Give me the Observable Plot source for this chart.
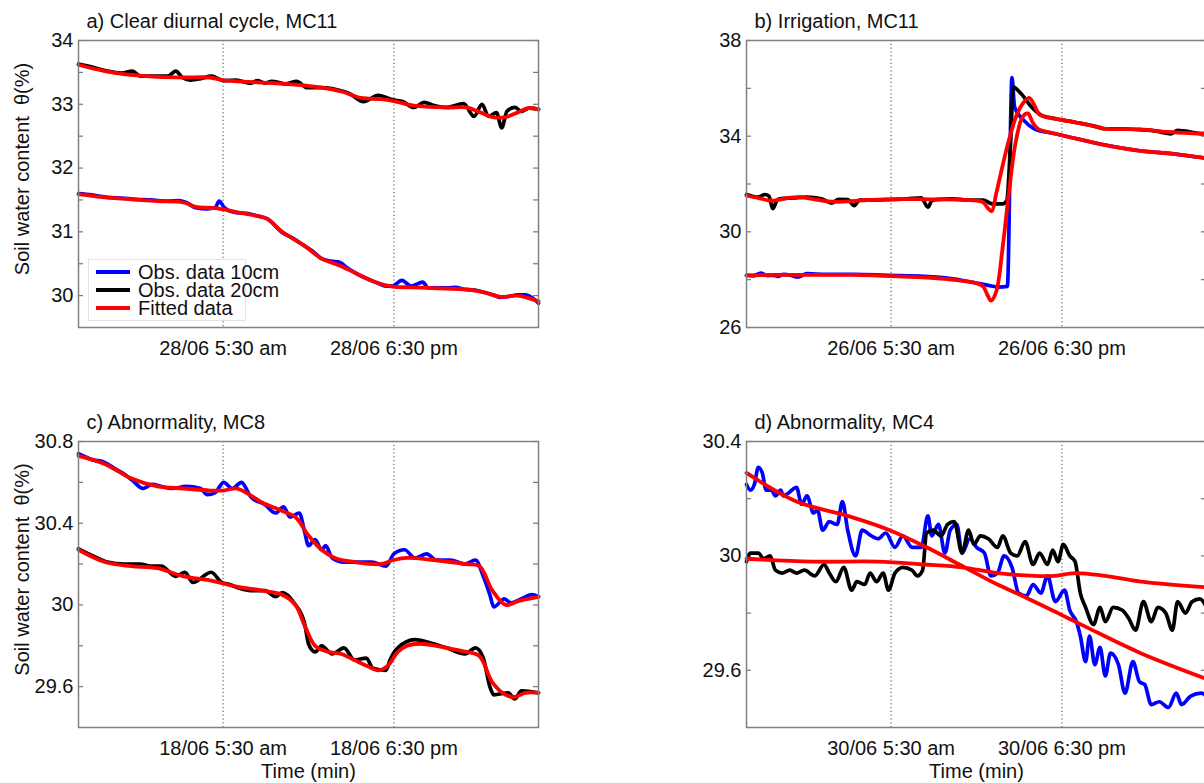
<!DOCTYPE html>
<html><head><meta charset="utf-8">
<script src="https://cdn.jsdelivr.net/npm/d3@7"></script>
<script src="https://cdn.jsdelivr.net/npm/@observablehq/plot@0.6"></script>
<style>
body{margin:0;background:#fff;overflow:hidden}
#fig{position:relative;width:1204px;height:783px;overflow:hidden;background:#fff;font-family:"Liberation Sans",Arial,sans-serif}
#fig svg{position:absolute}
</style></head><body><div id="fig"></div>
<script>
// ---------- shared labels ----------
const yAxisLabel = "Soil water content \u00a0θ(%)";
const xAxisLabel = "Time (min)";
const legendLabels = ["Obs. data 10cm", "Obs. data 20cm", "Fitted data"];
const legendColors = ["#0000ff", "#000000", "#ff0000"];
const xTickHours = [11, 24];   // hours after window start (18:30 previous day)

// ---------- panel a ----------
const aTitle = "a) Clear diurnal cycle, MC11";
const aXTickLabels = ["28/06 5:30 am", "28/06 6:30 pm"];
const aYLabeled = [30, 31, 32, 33, 34];
const aYTicks = [30, 30.5, 31, 31.5, 32, 32.5, 33, 33.5, 34];
const aObs10Hours = [0,1,2.2,3.2,4.4,5.5,6.8,7.6,8.2,8.9,9.8,10.4,10.7,11.1,12,12.8,13.6,14.4,15.5,16.3,17.2,17.8,18.5,19.2,19.9,20.4,21.2,22.6,23.4,23.9,24.6,25.3,26.2,26.6,28,28.7,29.3,30,30.7,31.6,32.1,32.8,33.4,34,34.5,35];
const aObs10 = [31.60,31.58,31.54,31.53,31.51,31.50,31.48,31.49,31.46,31.38,31.36,31.38,31.48,31.38,31.30,31.29,31.25,31.20,30.99,30.90,30.78,30.70,30.58,30.54,30.52,30.44,30.34,30.21,30.15,30.15,30.24,30.15,30.21,30.12,30.12,30.13,30.10,30.09,30.06,30.01,29.97,29.99,30.01,30.01,29.97,29.88];
const aObs20Hours = [0,1.1,2.2,3.3,4.1,4.7,5.8,6.8,7.4,7.9,8.5,9.3,10.1,11.05,12,13.1,13.6,14.2,14.7,15.8,16.6,17.4,18.5,19.6,20.6,21.7,22.8,23.9,24.7,25.5,26.3,27.1,28,29.3,30.1,30.7,31.2,31.8,32.2,32.6,33.2,33.7,34.3,35];
const aObs20 = [33.63,33.58,33.52,33.49,33.52,33.44,33.44,33.44,33.52,33.42,33.38,33.40,33.44,33.37,33.38,33.33,33.37,33.33,33.36,33.32,33.36,33.26,33.26,33.23,33.17,33.04,33.14,33.07,33.04,32.95,33.03,32.98,32.95,33.01,32.81,33.0,32.81,32.87,32.63,32.89,32.95,32.89,32.94,32.92];
const aFit10Hours = [0,2,4,6,8,8.9,10.4,12,13.6,14.4,15.5,17.2,18.5,19.9,21.2,22.6,23.9,25.3,26.6,28,29.3,30.7,32.1,33.4,35];
const aFit10 = [31.59,31.54,31.51,31.48,31.46,31.39,31.37,31.31,31.25,31.20,31.00,30.78,30.58,30.47,30.34,30.21,30.14,30.13,30.12,30.11,30.10,30.06,29.98,30.0,29.91];
const aFit20Hours = [0,2,4,6,8,10,11,13,15,17,18.5,20,21.5,23,24,25.5,28,29.5,30.5,31.5,32.5,33.5,34.2,35];
const aFit20 = [33.62,33.52,33.46,33.43,33.42,33.42,33.38,33.35,33.33,33.30,33.26,33.20,33.10,33.08,33.05,32.98,32.95,32.95,32.88,32.80,32.80,32.88,32.94,32.92];

// ---------- panel b ----------
const bTitle = "b) Irrigation, MC11";
const bXTickLabels = ["26/06 5:30 am", "26/06 6:30 pm"];
const bYLabeled = [26, 30, 34, 38];
const bYTicks = [26, 28, 30, 32, 34, 36, 38];
const bObs10Hours = [0,0.5,1.1,1.6,2.0,2.4,2.8,3.4,3.9,4.6,6,8.1,10.8,13.5,15.7,17.6,18.4,19.2,19.85,20.2,20.4,21.1,21.9,23.5,25.7,27.1,29.8,32.5,34.4,35];
const bObs10 = [28.18,28.16,28.27,28.17,28.18,28.14,28.22,28.18,28.11,28.25,28.22,28.22,28.18,28.14,28.04,27.85,27.76,27.69,27.72,36.45,35.21,34.66,34.31,34.10,33.82,33.65,33.40,33.26,33.12,33.08];
const bObs20Hours = [0,0.9,1.4,1.7,2.0,2.3,2.5,3.6,4.6,5.7,6.5,7.0,7.7,8.2,8.6,9.2,10.8,12.2,13.3,13.8,14.1,14.4,15.7,16.8,18,18.7,19.5,19.8,20.1,20.3,20.9,21.7,22.5,23.6,25,26.6,27.2,28.5,29.9,31.2,32.3,32.8,34.4,35];
const bObs20 = [31.56,31.45,31.56,31.50,30.97,31.30,31.38,31.42,31.45,31.38,31.20,31.36,31.35,31.10,31.33,31.33,31.35,31.38,31.42,31.03,31.30,31.35,31.38,31.33,31.33,31.17,31.17,31.30,33.82,36.05,35.77,35.21,34.86,34.72,34.58,34.40,34.31,34.31,34.27,34.21,34.10,34.24,34.12,34.10];
const bFit10Hours = [0,2,4,6,8,10,12,14,16,17.5,18.0,18.3,18.6,19.0,19.5,20.0,20.5,21.0,21.4,21.8,22.2,23.5,25.7,27.1,29.8,32.5,34.4,35];
const bFit10 = [28.18,28.2,28.2,28.2,28.2,28.17,28.13,28.08,27.98,27.85,27.72,27.4,27.12,27.5,29.4,31.8,33.8,34.8,34.95,34.55,34.3,34.1,33.82,33.65,33.40,33.26,33.12,33.08];
const bFit20Hours = [0,1,2,3,4,5,6,7,8,9,10,12,14,16,17.5,18.0,18.35,18.65,19.0,19.5,20.0,20.5,21.0,21.5,21.9,22.3,23.6,25,26.6,27.2,30,32,34,35];
const bFit20 = [31.52,31.40,31.30,31.40,31.45,31.38,31.28,31.25,31.28,31.32,31.35,31.37,31.36,31.35,31.30,31.24,31.0,30.86,31.6,32.8,33.9,34.8,35.35,35.6,35.3,34.9,34.72,34.58,34.40,34.32,34.28,34.18,34.12,34.10];

// ---------- panel c ----------
const cTitle = "c) Abnormality, MC8";
const cXTickLabels = ["18/06 5:30 am", "18/06 6:30 pm"];
const cYLabeled = [29.6, 30, 30.4, 30.8];
const cYTicks = [29.6, 29.8, 30, 30.2, 30.4, 30.6, 30.8];
const cObs10Hours = [0,1.1,1.9,2.7,3.5,4.1,4.9,5.6,6.3,7.1,8.2,9.3,9.8,10.4,11.05,11.7,12.4,13.1,14.2,15,15.6,16.1,16.8,17.2,17.5,18,18.5,18.8,19.3,20.2,21.3,22.3,23.4,24,24.8,25.6,26.5,27.2,28.3,29.4,30.2,30.8,31.3,31.6,32.4,32.9,33.7,34.5,35];
const cObs10 = [30.74,30.71,30.70,30.67,30.64,30.61,30.57,30.59,30.58,30.57,30.58,30.57,30.54,30.55,30.60,30.57,30.60,30.53,30.49,30.45,30.48,30.43,30.45,30.36,30.29,30.32,30.27,30.29,30.23,30.21,30.21,30.21,30.19,30.25,30.27,30.23,30.25,30.22,30.22,30.20,30.22,30.14,30.05,29.99,30.03,30.01,30.03,30.05,30.04];
const cObs20Hours = [0,1.1,2.2,3.5,4.7,5.5,6.3,7.4,8.1,8.7,10.1,10.9,11.5,12.3,13.1,14.2,15,15.5,16.4,17.2,17.5,18,18.5,19.3,20.2,21,21.9,22.4,23.4,23.7,24.3,25.6,27,28,29.4,30.2,30.8,31.3,31.6,32.7,33.2,33.7,35];
const cObs20 = [30.275,30.24,30.21,30.20,30.20,30.19,30.19,30.14,30.16,30.11,30.16,30.11,30.10,30.08,30.07,30.07,30.04,30.06,30.01,29.91,29.81,29.77,29.80,29.76,29.79,29.73,29.74,29.69,29.68,29.73,29.79,29.83,29.81,29.79,29.76,29.79,29.74,29.60,29.56,29.57,29.54,29.58,29.57];
const cFit10Hours = [0,2,4,6,8,10,11,12,13,14,15.5,16.5,17.5,18.5,19.5,21,23,24,25,27,29.5,30.5,31.5,32.5,33.5,35];
const cFit10 = [30.73,30.69,30.62,30.58,30.57,30.56,30.56,30.57,30.54,30.50,30.46,30.43,30.34,30.27,30.23,30.21,30.20,30.22,30.23,30.22,30.20,30.19,30.07,30.00,30.02,30.04];
const cFit20Hours = [0,2,4,6,8,10,12,14,15.5,16.5,17.2,18,19,20,21,22,22.8,23.5,24.3,25,26,28,29.5,30.5,31.5,32.5,33.2,34,35];
const cFit20 = [30.27,30.21,30.19,30.18,30.14,30.12,30.09,30.07,30.05,30.0,29.90,29.80,29.77,29.76,29.73,29.70,29.68,29.70,29.77,29.80,29.81,29.79,29.77,29.75,29.62,29.56,29.55,29.57,29.57];

// ---------- panel d ----------
const dTitle = "d) Abnormality, MC4";
const dXTickLabels = ["30/06 5:30 am", "30/06 6:30 pm"];
const dYLabeled = [29.6, 30, 30.4];
const dYTicks = [29.6, 29.8, 30, 30.2, 30.4];
const dObs10Hours = [0,0.3,0.6,0.9,1.2,1.5,1.9,2.2,2.6,2.8,3.2,3.8,4.2,4.6,5.1,5.4,5.8,6.3,6.9,7.3,7.7,8.3,8.8,9.5,10.0,10.6,11.3,11.9,12.6,13.3,13.8,14.1,14.6,15.1,15.5,16.0,16.4,17.0,17.5,18.1,18.6,19.1,19.6,20.2,20.7,21.3,21.8,22.4,22.9,23.5,24.2,24.6,25.1,25.4,25.8,26.1,26.5,26.9,27.3,27.7,28.3,28.8,29.4,29.9,30.3,30.8,31.4,32.1,32.7,33.1,33.8,34.6,35];
const dObs10 = [30.25,30.23,30.25,30.31,30.29,30.23,30.23,30.21,30.23,30.21,30.22,30.24,30.18,30.21,30.15,30.16,30.09,30.12,30.11,30.19,30.09,30.00,30.09,30.07,30.06,30.08,30.03,30.07,30.03,30.03,30.14,30.07,30.11,30.01,30.09,30.11,30.01,30.06,30.03,30.01,29.93,29.94,30.00,29.96,29.87,29.86,29.90,29.87,29.93,29.84,29.88,29.81,29.77,29.72,29.63,29.72,29.62,29.68,29.58,29.66,29.62,29.52,29.63,29.56,29.55,29.48,29.49,29.47,29.52,29.48,29.51,29.52,29.51];
const dObs20Hours = [0,0.3,0.9,1.3,1.8,2.2,2.7,3.3,3.8,4.4,5.2,5.9,6.3,6.8,7.4,8.0,8.4,9.0,9.4,9.9,10.4,10.8,11.3,11.9,12.6,13.0,13.4,13.7,14.2,14.8,15.3,15.8,16.4,16.9,17.3,17.8,18.4,19.1,19.5,20.1,20.6,21.2,21.8,22.3,22.9,23.3,23.7,24.1,24.6,25.0,25.4,25.8,26.4,26.9,27.3,27.9,28.6,29.1,29.6,30.2,30.8,31.3,31.9,32.4,32.8,33.4,33.9,34.5,35];
const dObs20 = [29.98,30.01,30.01,29.99,30.00,29.95,29.94,29.95,29.94,29.95,29.93,29.97,29.94,29.91,29.96,29.88,29.91,29.90,29.94,29.91,29.94,29.88,29.94,29.96,29.95,29.93,29.95,30.08,30.09,30.07,30.11,30.12,30.01,30.09,30.04,30.07,30.06,30.03,30.07,30.01,30.00,30.05,29.97,30.01,29.97,30.02,29.98,30.04,30.00,29.98,29.87,29.82,29.76,29.82,29.77,29.82,29.81,29.78,29.74,29.84,29.77,29.82,29.80,29.74,29.84,29.80,29.84,29.85,29.82];
const dFit10Hours = [0,3.8,7.7,10.9,13.7,16.6,19.1,21,23.7,25.9,30,35];
const dFit10 = [30.29,30.19,30.14,30.09,30.03,29.96,29.90,29.86,29.80,29.75,29.66,29.57];
const dFit20Hours = [0,5,10,13.5,16.4,19.1,21.9,23.4,25,27.3,30,35];
const dFit20 = [29.99,29.98,29.98,29.97,29.96,29.94,29.93,29.93,29.94,29.93,29.91,29.89];

// ---------- build ----------
const FONT = "'Liberation Sans', Arial, sans-serif";
const PW = 460;
const fig = document.getElementById("fig");

function rows(hours, values) {
  const n = Math.min(hours.length, values.length);
  return d3.range(n).map(i => ({h: hours[i], v: values[i]}));
}

function panel(cfg) {
  const obsLines = cfg.obs.map(([hs, vs, color]) =>
    Plot.line(rows(hs, vs), {x: "h", y: "v", stroke: color, strokeWidth: 3.7, curve: "monotone-x", strokeLinejoin: "round"}));
  const fitLines = cfg.fit.map(([hs, vs]) =>
    Plot.line(rows(hs, vs), {x: "h", y: "v", stroke: "#ff0000", strokeWidth: 3.8, curve: "catmull-rom"}));
  const marks = [
    Plot.ruleX(xTickHours, {stroke: "#444", strokeWidth: 1, strokeDasharray: "1.2,2.6"}),
    Plot.tickY(cfg.yTicks, {insetRight: PW - 5, stroke: "#777", strokeWidth: 1.2}),
    Plot.tickY(cfg.yTicks, {insetLeft: PW - 5, stroke: "#777", strokeWidth: 1.2}),
    Plot.axisY({ticks: cfg.yLabeled, tickSize: 0, tickPadding: 5, tickFormat: d => String(d), label: null, color: "#111", fontSize: 20}),
    Plot.axisX({ticks: xTickHours, tickSize: 0, tickPadding: 13, tickFormat: d => cfg.xLabels[xTickHours.indexOf(d)], label: null, color: "#111", fontSize: 20}),
    ...obsLines,
    ...fitLines,
    Plot.frame({stroke: "#808080", strokeWidth: 1.5}),
    Plot.text([cfg.title], {frameAnchor: "top-left", dx: 8, dy: -19, lineAnchor: "middle", textAnchor: "start", fill: "#111", fontSize: 20})
  ];
  if (cfg.yTitle) marks.push(Plot.text([yAxisLabel], {frameAnchor: "left", dx: -56, dy: -15, rotate: -90, textAnchor: "middle", lineAnchor: "middle", fill: "#111", fontSize: 20}));
  if (cfg.xTitle) marks.push(Plot.text([xAxisLabel], {frameAnchor: "bottom", dy: 44, lineAnchor: "middle", textAnchor: "middle", fill: "#111", fontSize: 20}));
  const svg = Plot.plot({
    width: 78 + PW + 10,
    height: cfg.height,
    marginLeft: 78, marginRight: 10,
    marginTop: cfg.marginTop, marginBottom: cfg.marginBottom,
    x: {domain: [0, 35]},
    y: {domain: cfg.yDomain},
    style: {fontFamily: FONT, fontSize: "20px", background: "transparent", overflow: "visible"},
    marks
  });
  svg.style.left = cfg.left + "px";
  svg.style.top = cfg.top + "px";
  fig.appendChild(svg);
}

panel({title: aTitle, xLabels: aXTickLabels, yLabeled: aYLabeled, yTicks: aYTicks, yDomain: [29.5, 34],
  obs: [[aObs10Hours, aObs10, "#0000ff"], [aObs20Hours, aObs20, "#000000"]],
  fit: [[aFit10Hours, aFit10], [aFit20Hours, aFit20]],
  yTitle: true, xTitle: false, left: 0, top: 0, height: 380, marginTop: 40, marginBottom: 53});
panel({title: bTitle, xLabels: bXTickLabels, yLabeled: bYLabeled, yTicks: bYTicks, yDomain: [26, 38],
  obs: [[bObs10Hours, bObs10, "#0000ff"], [bObs20Hours, bObs20, "#000000"]],
  fit: [[bFit10Hours, bFit10], [bFit20Hours, bFit20]],
  yTitle: false, xTitle: false, left: 668, top: 0, height: 380, marginTop: 40, marginBottom: 53});
panel({title: cTitle, xLabels: cXTickLabels, yLabeled: cYLabeled, yTicks: cYTicks, yDomain: [29.4, 30.8],
  obs: [[cObs10Hours, cObs10, "#0000ff"], [cObs20Hours, cObs20, "#000000"]],
  fit: [[cFit10Hours, cFit10], [cFit20Hours, cFit20]],
  yTitle: true, xTitle: true, left: 0, top: 390, height: 393, marginTop: 51, marginBottom: 56});
panel({title: dTitle, xLabels: dXTickLabels, yLabeled: dYLabeled, yTicks: dYTicks, yDomain: [29.4, 30.4],
  obs: [[dObs10Hours, dObs10, "#0000ff"], [dObs20Hours, dObs20, "#000000"]],
  fit: [[dFit10Hours, dFit10], [dFit20Hours, dFit20]],
  yTitle: false, xTitle: true, left: 668, top: 390, height: 393, marginTop: 51, marginBottom: 56});

// ---------- legend (panel a) ----------
const lg = d3.select(fig).append("svg")
  .attr("width", 210).attr("height", 62)
  .style("left", "88px").style("top", "259px").style("overflow", "visible")
  .style("font-family", FONT).style("font-size", "20px");
lg.append("rect").attr("x", 0.5).attr("y", 0.5).attr("width", 157).attr("height", 61)
  .attr("fill", "#fff").attr("stroke", "#e4e4e4");
legendLabels.forEach((t, i) => {
  const y = 13 + i * 18;
  lg.append("line").attr("x1", 8).attr("x2", 42).attr("y1", y).attr("y2", y)
    .attr("stroke", legendColors[i]).attr("stroke-width", 4);
  lg.append("text").attr("x", 50).attr("y", y).attr("dy", "0.35em").attr("fill", "#111").text(t);
});
</script>
</body></html>
